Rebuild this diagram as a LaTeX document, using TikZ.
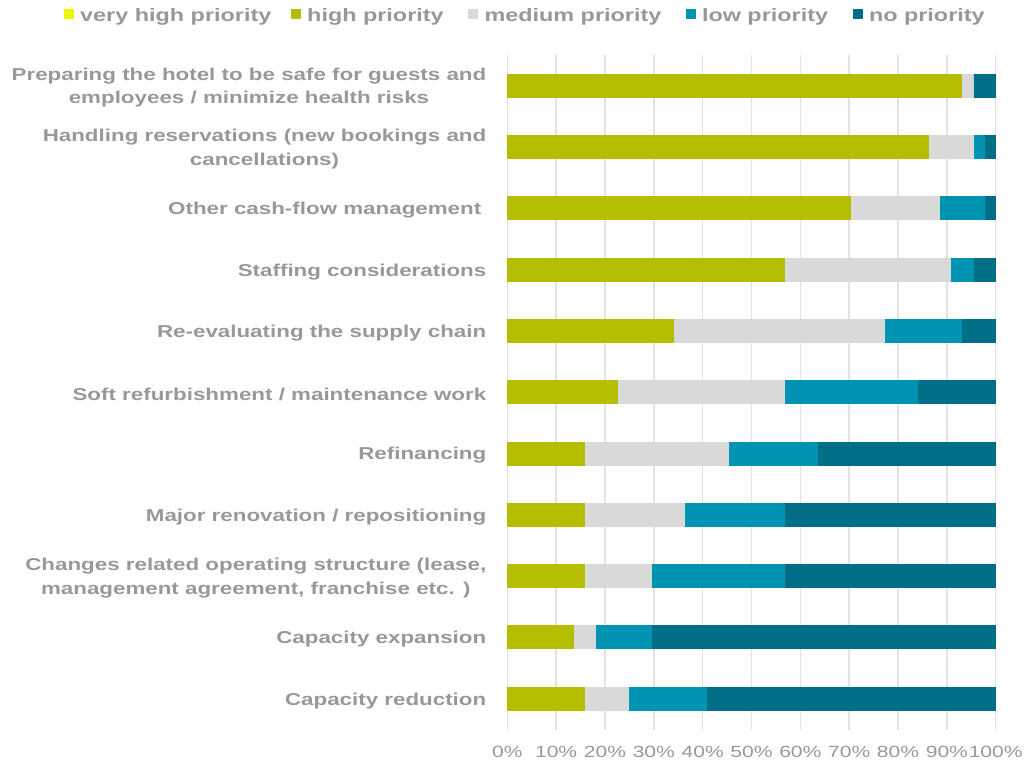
\documentclass[tikz,border=0pt]{standalone}
\usepackage{fontspec}
\newfontfamily\chartfont{Liberation Sans}[FakeStretch=1.3]
\definecolor{vhigh}{RGB}{236,248,0}
\definecolor{high}{RGB}{181,189,0}
\definecolor{medium}{RGB}{217,217,217}
\definecolor{low}{RGB}{0,147,178}
\definecolor{nopri}{RGB}{0,110,135}
\definecolor{txtgray}{RGB}{152,152,152}
\definecolor{gridgray}{RGB}{226,226,226}

\begin{document}
\begin{tikzpicture}[x=1pt,y=-1pt,
		catlabel/.style={anchor=east, align=center, text=txtgray, font=\chartfont\bfseries\fontsize{17.2}{23.3}\selectfont},
		legtext/.style={anchor=base west, text=txtgray, font=\chartfont\bfseries\fontsize{18}{20}\selectfont},
		legbox/.style={minimum size=10pt},
		ticklabel/.style={anchor=base, text=txtgray, font=\chartfont\fontsize{16.2}{18}\selectfont},
		gridline/.style={gridgray, line width=1.5pt}]
		\tikzstyle{every node}+=[inner sep=0pt]
		\useasboundingbox (0,0) rectangle (1025,763);
		\foreach \k in {0,...,10} {
			\pgfmathtruncatemacro\pc{10*\k}
			\draw [gridline] (507.3+48.84*\k,55) -- (507.3+48.84*\k,730);
			\node [ticklabel] (tick\k) at (507.3+48.84*\k,757) {\pc\%};
		}
		\foreach \i/\a/\b/\c in {0/41/1/0, 1/38/4/1, 2/31/8/4, 3/25/15/2, 4/15/19/7, 5/10/15/12, 6/7/13/8, 7/7/9/9, 8/7/6/12, 9/6/2/5, 10/7/4/7} {
			\pgfmathsetmacro\yc{85.7+61.31*\i}
			\pgfmathsetmacro\xa{507.3+11.1*\a}
			\pgfmathsetmacro\xb{507.3+11.1*(\a+\b)}
			\pgfmathsetmacro\xc{507.3+11.1*(\a+\b+\c)}
			\fill [high] (507.3,\yc-12) rectangle (\xa,\yc+12);
			\fill [medium] (\xa,\yc-12) rectangle (\xb,\yc+12);
			\fill [low] (\xb,\yc-12) rectangle (\xc,\yc+12);
			\fill [nopri] (\xc,\yc-12) rectangle (995.7,\yc+12);
		}
		\foreach \i/\txt in {0/{Preparing the hotel to be safe for guests and\\employees / minimize health risks},
			1/{Handling reservations (new bookings and\\cancellations)},
			2/{Other cash-flow management\hspace*{5pt}},
			3/{Staffing considerations},
			4/{Re-evaluating the supply chain},
			5/{Soft refurbishment / maintenance work},
			6/{Refinancing},
			7/{Major renovation / repositioning},
			8/{Changes related operating structure (lease,\\management agreement, franchise etc. )},
			9/{Capacity expansion},
			10/{Capacity reduction}} {
			\node [catlabel] (cat\i) at (486.5,87.7+61.31*\i) {\txt};
		}
		\foreach \nm/\cx/\lbl in {vhigh/68.7/very high priority, high/295.7/high priority, medium/473/medium priority, low/690.5/low priority, nopri/857.5/no priority} {
			\node [legbox, fill=\nm] (sq\nm) at (\cx,14.3) {};
			\node [legtext] (leg\nm) at (\cx+11.3,21.7) {\lbl};
		}
	\end{tikzpicture}
\end{document}
